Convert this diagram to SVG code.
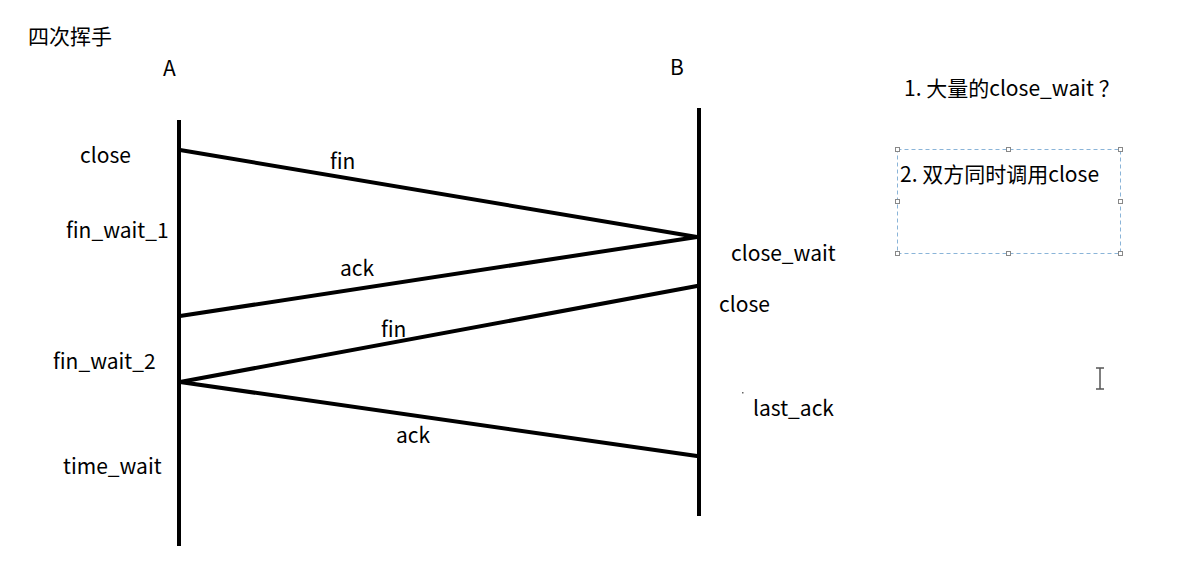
<svg xmlns="http://www.w3.org/2000/svg" width="1200" height="570" viewBox="0 0 1200 570">
<style>
text{font-family:"Noto Sans CJK SC","Noto Sans",sans-serif;font-size:21px;fill:#000}
.life{stroke:#000;stroke-width:4;fill:none}
.msg{stroke:#000;stroke-width:4;fill:none;stroke-linecap:round}
.h{fill:#fff;stroke:#888;stroke-width:1}
</style>
<rect width="1200" height="570" fill="#fff"/>
<text x="28" y="44">四次挥手</text>
<g id="nodeA">
<text x="163" y="76">A</text>
<line class="life" x1="179" y1="120" x2="179" y2="546"/>
<text x="80" y="163">close</text>
<text x="66" y="238">fin_wait_1</text>
<text x="53" y="369">fin_wait_2</text>
<text x="63" y="474">time_wait</text>
</g>
<g id="nodeB">
<text x="670" y="75">B</text>
<line class="life" x1="699" y1="108" x2="699" y2="516"/>
<text x="731" y="261">close_wait</text>
<text x="719" y="312">close</text>
<text x="753" y="416">last_ack</text>
<rect x="742" y="392" width="1.5" height="1.5" fill="#666"/>
</g>
<g id="connectors">
<line class="msg" x1="180" y1="150" x2="697" y2="237"/>
<line class="msg" x1="697" y1="237" x2="180" y2="316"/>
<line class="msg" x1="697" y1="286" x2="180" y2="382"/>
<line class="msg" x1="180" y1="382" x2="697" y2="456"/>
<text x="330" y="169">fin</text>
<text x="340" y="276">ack</text>
<text x="381" y="337">fin</text>
<text x="396" y="443">ack</text>
</g>
<g id="notes">
<text x="904" y="96">1. 大量的close_wait ？</text>
<rect x="897.5" y="149.5" width="223" height="104" fill="none" stroke="#8ab4d8" stroke-width="1" stroke-dasharray="4,3"/>
<rect class="h" x="895.5" y="147.5" width="4" height="4"/>
<rect class="h" x="1006.5" y="147.5" width="4" height="4"/>
<rect class="h" x="1118.5" y="147.5" width="4" height="4"/>
<rect class="h" x="895.5" y="199.5" width="4" height="4"/>
<rect class="h" x="1118.5" y="199.5" width="4" height="4"/>
<rect class="h" x="895.5" y="251.5" width="4" height="4"/>
<rect class="h" x="1006.5" y="251.5" width="4" height="4"/>
<rect class="h" x="1118.5" y="251.5" width="4" height="4"/>
<text x="900" y="182">2. 双方同时调用close</text>
</g>
<g id="cursor" stroke="#555" stroke-width="1.5" fill="none">
<line x1="1100" y1="368" x2="1100" y2="389"/>
<line x1="1096" y1="368" x2="1104" y2="368"/>
<line x1="1096" y1="389" x2="1104" y2="389"/>
</g>
</svg>
